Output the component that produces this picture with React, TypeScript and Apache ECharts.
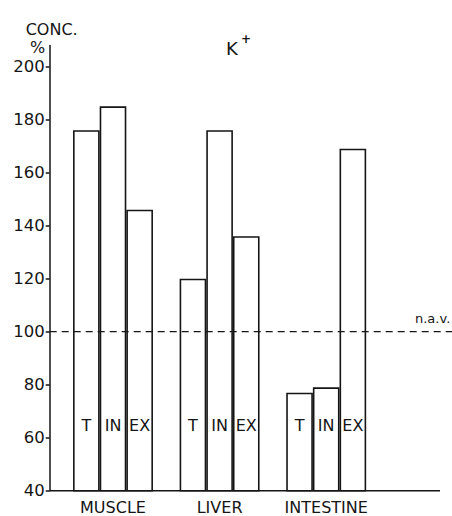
import React, { useEffect, useRef } from 'react';
import * as echarts from 'echarts';

const categories = ['MUSCLE', 'LIVER', 'INTESTINE'];
const seriesNames = ['T', 'IN', 'EX'];
const tValues = [176, 120, 77];
const inValues = [185, 176, 79];
const exValues = [146, 136, 169];
const yTicks = [40, 60, 80, 100, 120, 140, 160, 180, 200];
const yMin = 40;
const yMax = 208;
const navValue = 100;
const navLabel = 'n.a.v.';
const yTitle = 'CONC.';
const yUnit = '%';
const ionLabel = 'K';
const ionCharge = '+';

const FONT = 'DejaVu Sans';
const INK = '#151515';

export default function App() {
  const ref = useRef<HTMLDivElement>(null);

  useEffect(() => {
    document.body.style.margin = '0';
    const chart = echarts.init(ref.current as HTMLDivElement, null, { renderer: 'svg' });
    const seriesData = [tValues, inValues, exValues];

    chart.setOption({
      animation: false,
      backgroundColor: '#ffffff',
      grid: { left: 59.7, right: 72.5, top: 45.4, bottom: 25.3, containLabel: false },
      xAxis: {
        type: 'category',
        data: categories,
        axisLine: { show: false },
        axisTick: { show: false },
        axisLabel: { color: INK, fontFamily: FONT, fontSize: 16, margin: 9, interval: 0, hideOverlap: false },
      },
      yAxis: {
        type: 'value',
        min: yMin,
        max: yMax,
        interval: 20,
        offset: 10,
        splitLine: { show: false },
        axisLine: { show: true, lineStyle: { color: INK, width: 1.5 } },
        axisTick: { show: true, length: 4, customValues: yTicks, lineStyle: { color: INK, width: 1.5 } },
        axisLabel: { color: INK, fontFamily: FONT, fontSize: 16.5, margin: 5, customValues: yTicks },
      },
      series: seriesNames.map((name, i) => ({
        name,
        type: 'bar',
        data: seriesData[i],
        barGap: '0%',
        barCategoryGap: '25%',
        itemStyle: { color: '#ffffff', borderColor: INK, borderWidth: 1.6 },
        label: {
          show: true,
          position: 'insideBottom',
          distance: 58,
          formatter: name,
          color: INK,
          fontFamily: FONT,
          fontSize: 16,
        },
      })),
    });

    const axisX = 49.7;
    const yBase = chart.convertToPixel({ yAxisIndex: 0 }, yMin) as number;
    const yNav = chart.convertToPixel({ yAxisIndex: 0 }, navValue) as number;

    chart.setOption({
      graphic: [
        {
          type: 'line',
          z: 50,
          shape: { x1: axisX, y1: yBase, x2: 440, y2: yBase },
          style: { stroke: INK, lineWidth: 1.5 },
        },
        {
          type: 'line',
          z: 50,
          shape: { x1: axisX, y1: yNav, x2: 452, y2: yNav },
          style: { stroke: INK, lineWidth: 1.4, lineDash: [7, 5] },
        },
        {
          type: 'text',
          z: 50,
          x: 415,
          y: yNav - 13,
          style: { text: navLabel, fill: INK, font: `13px "${FONT}"`, textVerticalAlign: 'middle' },
        },
        {
          type: 'text',
          z: 50,
          x: 51.7,
          y: 29,
          style: { text: yTitle, fill: INK, font: `16px "${FONT}"`, textAlign: 'center', textVerticalAlign: 'middle' },
        },
        {
          type: 'text',
          z: 50,
          x: 37.5,
          y: 47.5,
          style: { text: yUnit, fill: INK, font: `16px "${FONT}"`, textAlign: 'center', textVerticalAlign: 'middle' },
        },
        {
          type: 'text',
          z: 50,
          x: 226,
          y: 48.5,
          style: { text: ionLabel, fill: INK, font: `18px "${FONT}"`, textVerticalAlign: 'middle' },
        },
        {
          type: 'text',
          z: 50,
          x: 241,
          y: 39,
          style: { text: ionCharge, fill: INK, font: `bold 12px "${FONT}"`, textVerticalAlign: 'middle' },
        },
      ],
    });

    return () => chart.dispose();
  }, []);

  return (
    <div
      ref={ref}
      style={{ position: 'fixed', left: 0, top: 0, width: 452, height: 516, background: '#fff' }}
    />
  );
}
